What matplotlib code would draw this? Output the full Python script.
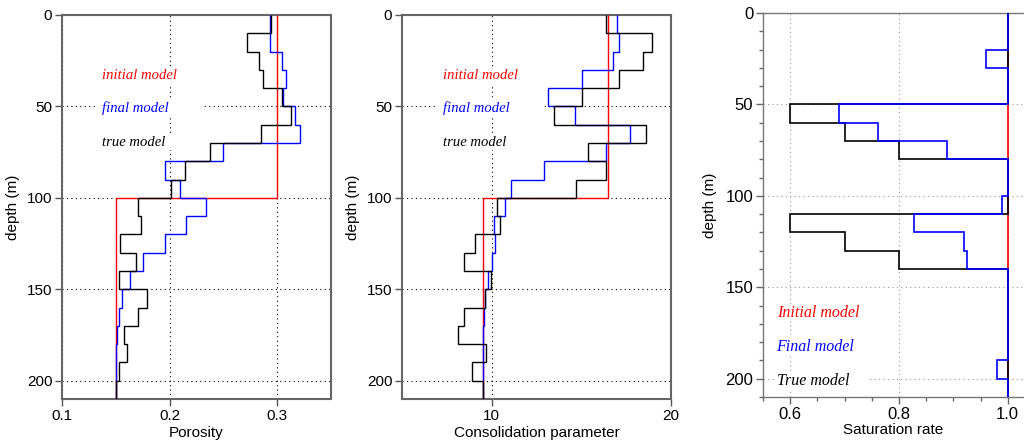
import matplotlib.pyplot as plt
import matplotlib.patches as mpatches
import numpy as np

# layer boundaries (m), 10 m layers down to 210 m
depth_edges = np.arange(0, 220, 10)

# porosity
poro_true = [0.294, 0.272, 0.283, 0.287, 0.304, 0.313, 0.285, 0.238, 0.214, 0.201,
             0.171, 0.173, 0.154, 0.169, 0.153, 0.179, 0.171, 0.158, 0.160, 0.153, 0.150]
poro_final = [0.293, 0.293, 0.304, 0.308, 0.305, 0.317, 0.321, 0.250, 0.196, 0.210,
              0.234, 0.215, 0.196, 0.175, 0.163, 0.156, 0.153, 0.151, 0.150, 0.150, 0.150]
poro_init = [0.30] * 10 + [0.15] * 11

# consolidation parameter
cons_true = [16.35, 18.92, 18.42, 17.10, 15.01, 13.50, 18.60, 15.36, 16.35, 14.71,
             10.28, 10.45, 9.05, 8.44, 9.96, 9.65, 8.44, 8.14, 9.70, 8.88, 9.50]
cons_final = [17.0, 17.10, 16.78, 15.01, 13.15, 14.62, 17.73, 16.35, 12.90, 11.08,
              10.74, 10.13, 10.19, 10.0, 9.80, 9.65, 9.57, 9.52, 9.50, 9.50, 9.50]
cons_init = [16.5] * 10 + [9.5] * 11

# saturation rate
sat_true = [1.0, 1.0, 1.0, 1.0, 1.0, 0.6, 0.7, 0.8, 1.0, 1.0,
            1.0, 0.6, 0.7, 0.8, 1.0, 1.0, 1.0, 1.0, 1.0, 1.0, 1.0]
sat_final = [1.0, 1.0, 0.96, 1.0, 1.0, 0.69, 0.761, 0.889, 1.0, 1.0,
             0.99, 0.827, 0.92, 0.925, 1.0, 1.0, 1.0, 1.0, 1.0, 0.981, 1.0]
sat_init = [1.0] * 21

serif = ['Liberation Serif', 'DejaVu Serif']
sans = ['Liberation Sans', 'DejaVu Sans']
plt.rcParams['font.family'] = sans

fig = plt.figure(figsize=(10.24, 4.41), dpi=100)

W, H = 1024.0, 441.0


def frac(left, top, right, bottom):
    return [left / W, 1 - bottom / H, (right - left) / W, (bottom - top) / H]


def labels(ax, items, x0, x1, text_x, size):
    # white strip behind each label hides the grid, like the original
    for label, c, d in items:
        ax.add_patch(mpatches.Rectangle((x0, d - 4.5), x1 - x0, 9, facecolor='white',
                                        edgecolor='none', zorder=1.8))
        ax.text(text_x, d, label, color=c, family=serif, style='italic', fontsize=size,
                va='center', ha='left', zorder=2)


def model_panel(ax, init, final, true, xlim, xticks, xlabel, box_x):
    ax.stairs(init, depth_edges, orientation='horizontal', baseline=None, color='red', lw=1.0, zorder=3)
    ax.stairs(final, depth_edges, orientation='horizontal', baseline=None, color='blue', lw=1.0, zorder=4)
    ax.stairs(true, depth_edges, orientation='horizontal', baseline=None, color='black', lw=1.0, zorder=5)
    ax.set_xlim(xlim)
    ax.set_ylim(210, 0)
    ax.set_xticks(xticks)
    ax.set_yticks([0, 50, 100, 150, 200])
    ax.grid(True, color='black', linestyle=(0, (1, 3)), lw=0.8)
    ax.tick_params(direction='out', length=5, width=1, color='#555555', labelsize=11, pad=2)
    for s in ax.spines.values():
        s.set_color('#666666')
        s.set_linewidth(1.5)
    ax.set_xlabel(xlabel, fontsize=11, labelpad=2)
    ax.set_ylabel('depth (m)', fontsize=11, labelpad=5)
    items = [('initial model', 'red', 33), ('final model', 'blue', 51), ('true model', 'black', 69.5)]
    labels(ax, items, box_x[0], box_x[2], box_x[1], 10.5)


ax1 = fig.add_axes(frac(62, 15, 331, 399))
model_panel(ax1, poro_init, poro_final, poro_true, (0.1, 0.35), [0.1, 0.2, 0.3], 'Porosity',
            (0.1316, 0.137, 0.232))

ax2 = fig.add_axes(frac(402, 15, 671, 399))
model_panel(ax2, cons_init, cons_final, cons_true, (5, 20), [10, 20], 'Consolidation parameter',
            (6.92, 7.26, 12.9))

# saturation panel
ax3 = fig.add_axes(frac(763, 13, 1024, 397))
ax3.stairs(sat_init, depth_edges, orientation='horizontal', baseline=None, color='red', lw=1.2, zorder=3)
ax3.stairs(sat_true, depth_edges, orientation='horizontal', baseline=None, color='black', lw=1.2, zorder=4)
ax3.stairs(sat_final, depth_edges, orientation='horizontal', baseline=None, color='blue', lw=1.2, zorder=5)
ax3.set_xlim(0.55, 1.03)
ax3.set_ylim(210, 0)
ax3.set_xticks([0.6, 0.8, 1.0])
ax3.set_xticklabels(['0.6', '0.8', '1.0'])
ax3.set_yticks([0, 50, 100, 150, 200])
ax3.set_xticks(np.arange(0.55, 1.03, 0.05), minor=True)
ax3.set_yticks(np.arange(0, 211, 10), minor=True)
ax3.grid(True, which='major', color='#999999', linestyle=(0, (1, 3)), lw=0.8)
ax3.tick_params(which='major', direction='out', length=5, width=1, color='#666666', labelsize=12, pad=2)
ax3.tick_params(which='minor', direction='out', length=3, width=1, color='#666666')
ax3.spines['right'].set_visible(False)
for k in ['left', 'top', 'bottom']:
    ax3.spines[k].set_color('#777777')
    ax3.spines[k].set_linewidth(1.0)
ax3.set_xlabel('Saturation rate', fontsize=11, labelpad=1)
ax3.set_ylabel('depth (m)', fontsize=11, labelpad=6)
labels(ax3, [('Initial model', 'red', 164), ('Final model', 'blue', 182.5), ('True model', 'black', 201)],
       0.571, 0.743, 0.575, 11.5)

fig.savefig('out.png', dpi=100)
